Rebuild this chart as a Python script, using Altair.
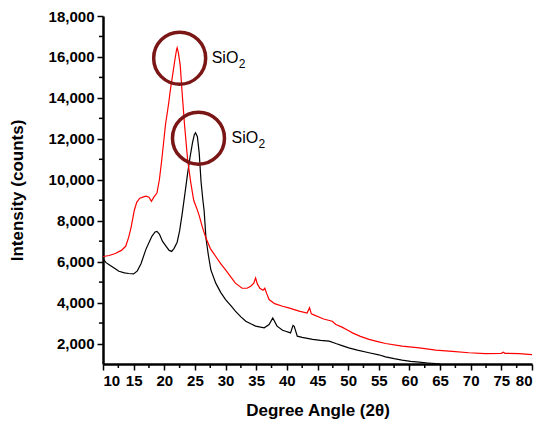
import altair as alt
import pandas as pd

# ---- data ----
red_x = [10, 11, 12, 13, 13.7, 14.2, 14.6, 15.1, 15.5, 16, 16.5, 17, 17.5, 17.9, 18.3, 18.8,
         19.2, 19.6, 20.2, 20.7, 21.0, 21.4, 21.7, 22.0, 22.1, 22.3, 22.6, 22.9, 23.3, 23.8,
         24.3, 24.8, 25.3, 25.7, 26.2, 26.8, 27.5, 28.4, 29.2, 30.0, 31.0, 31.6, 32.7, 33.5,
         34.1, 34.6, 34.9, 35.2, 35.6, 36.1, 36.4, 36.7, 37.1, 38, 39.3, 40.3, 42.0, 43.3,
         43.7, 44.0, 44.4, 46, 47.4, 48.0, 49, 50.1, 50.7, 52, 53.4, 55, 56.1, 58.8, 61.6,
         64.3, 67.0, 69.7, 72.4, 75.0, 75.3, 75.6, 77.9, 80]
red_y = [6250, 6300, 6400, 6550, 6750, 7200, 7700, 8500, 8900, 9100, 9150, 9200, 9150, 8950,
         9150, 9350, 10000, 11000, 12700, 13700, 14400, 15200, 15800, 16350, 16450, 16200,
         15600, 14300, 12700, 11000, 9900, 9000, 8600, 8250, 7700, 7150, 6650, 6250, 5900,
         5600, 5200, 4950, 4700, 4700, 4800, 4950, 5200, 4900, 4700, 4600, 4700, 4450, 4150,
         3950, 3820, 3740, 3580, 3490, 3750, 3450, 3400, 3200, 3090, 2930, 2800, 2620, 2520,
         2350, 2200, 2080, 2000, 1870, 1790, 1680, 1620, 1550, 1510, 1520, 1580, 1520, 1510,
         1460]

black_x = [10, 10.5, 11, 12, 12.6, 13.5, 14.2, 15, 15.6, 16.2, 17.0, 17.6, 18.0, 18.5, 18.8,
           19.2, 19.7, 20.3, 20.8, 21.2, 21.6, 22.1, 22.5, 22.9, 23.4, 23.8, 24.2, 24.6, 24.9,
           25.1, 25.4, 25.7, 26.0, 26.3, 26.5, 26.8, 27.2, 27.6, 28.4, 29.2, 30.0, 31, 31.6,
           32.5, 33.3, 34.2, 34.9, 36.3, 37.1, 37.7, 38.4, 39.3, 39.8, 40.6, 41.0, 41.2, 41.7,
           42.5, 44.2, 45.5, 46.9, 48.0, 49, 50.1, 51.5, 53.4, 55, 56.1, 57.5, 58.8, 60.2,
           61.6, 63, 64.3, 65]
black_y = [6150, 5950, 5850, 5650, 5530, 5450, 5420, 5400, 5550, 5900, 6600, 7000, 7250, 7450,
           7480, 7350, 7000, 6750, 6550, 6500, 6650, 6950, 7500, 8300, 9400, 10300, 11100,
           11800, 12200, 12300, 12100, 11300, 9900, 9000, 8500, 7150, 6300, 5600, 4950, 4500,
           4150, 3800, 3580, 3300, 3090, 2950, 2850, 2770, 2930, 3250, 2850, 2650, 2600, 2520,
           2880, 2840, 2360, 2300, 2200, 2150, 2120, 2000, 1900, 1790, 1680, 1550, 1450, 1350,
           1260, 1190, 1130, 1090, 1050, 1020, 1010]

x_major = [10, 15, 20, 25, 30, 35, 40, 45, 50, 55, 60, 65, 70, 75, 80]
x_minor = [12.5, 17.5, 22.5, 27.5, 32.5, 37.5, 42.5, 47.5, 52.5, 57.5, 62.5, 67.5, 72.5, 77.5]
y_major = [2000, 4000, 6000, 8000, 10000, 12000, 14000, 16000, 18000]
y_minor = [3000, 5000, 7000, 9000, 11000, 13000, 15000, 17000]

circle_x = [22.51, 25.58]
circle_y = [15937, 12034]
label_x = [27.73, 30.97]
label_y = [15722, 11820]

red_df = pd.DataFrame({"x": red_x, "y": red_y})
black_df = pd.DataFrame({"x": black_x, "y": black_y})
circ_df = pd.DataFrame({"x": circle_x, "y": circle_y})
lab_df = pd.DataFrame({"x": label_x, "y": label_y, "t": ["SiO", "SiO"], "s": ["2", "2"]})
xmin_df = pd.DataFrame({"x": x_minor})
ymin_df = pd.DataFrame({"y": y_minor})

FONT = "Liberation Sans"
W, H = 429, 348

xscale = alt.Scale(domain=[10, 80], nice=False, zero=False)
yscale = alt.Scale(domain=[1000, 18000], nice=False, zero=False)

xax = alt.Axis(title="Degree Angle (2θ)", values=x_major, format="d",
               labelOverlap=False, titlePadding=14)
yax = alt.Axis(title="Intensity (counts)", values=y_major, format=",d",
               labelOverlap=False, titlePadding=22)

X = alt.X("x:Q", scale=xscale, axis=xax)
Y = alt.Y("y:Q", scale=yscale, axis=yax)

black_line = alt.Chart(black_df).mark_line(color="#000000", strokeWidth=1.2, clip=True).encode(
    x=X, y=Y, order="x:Q")
red_line = alt.Chart(red_df).mark_line(color="#ff0000", strokeWidth=1.2, clip=True).encode(
    x=X, y=Y, order="x:Q")

x_minor_ticks = alt.Chart(xmin_df).mark_rule(color="#000000", strokeWidth=1.5).encode(
    x=X, y=alt.value(H), y2=alt.value(H + 4))
y_minor_ticks = alt.Chart(ymin_df).mark_rule(color="#000000", strokeWidth=1.5).encode(
    y=Y, x=alt.value(0), x2=alt.value(-4))

circles = alt.Chart(circ_df).mark_point(
    shape="circle", size=2704, filled=False, color="#7b1616", strokeWidth=3.5, opacity=1
).encode(x=X, y=Y)

labels = alt.Chart(lab_df).mark_text(
    align="left", baseline="alphabetic", font=FONT, fontSize=16, color="#000000"
).encode(x=X, y=Y, text="t:N")
subs = alt.Chart(lab_df).mark_text(
    align="left", baseline="alphabetic", font=FONT, fontSize=12, color="#000000", dx=27, dy=5
).encode(x=X, y=Y, text="s:N")

chart = alt.layer(black_line, red_line, x_minor_ticks, y_minor_ticks, circles, labels, subs).properties(
    width=W, height=H,
    padding={"left": 0, "top": 1, "right": 5, "bottom": 5},
).configure_view(stroke=None).configure_axis(
    grid=False,
    domainColor="#000000", domainWidth=2.5,
    tickColor="#000000", tickWidth=1.5, tickSize=6,
    labelFont=FONT, labelFontSize=15, labelFontWeight="bold", labelColor="#000000",
    labelPadding=3,
    titleFont=FONT, titleFontSize=17, titleFontWeight="bold", titleColor="#000000",
)

chart.save("out.html", embed_options={"renderer": "svg", "actions": False})
